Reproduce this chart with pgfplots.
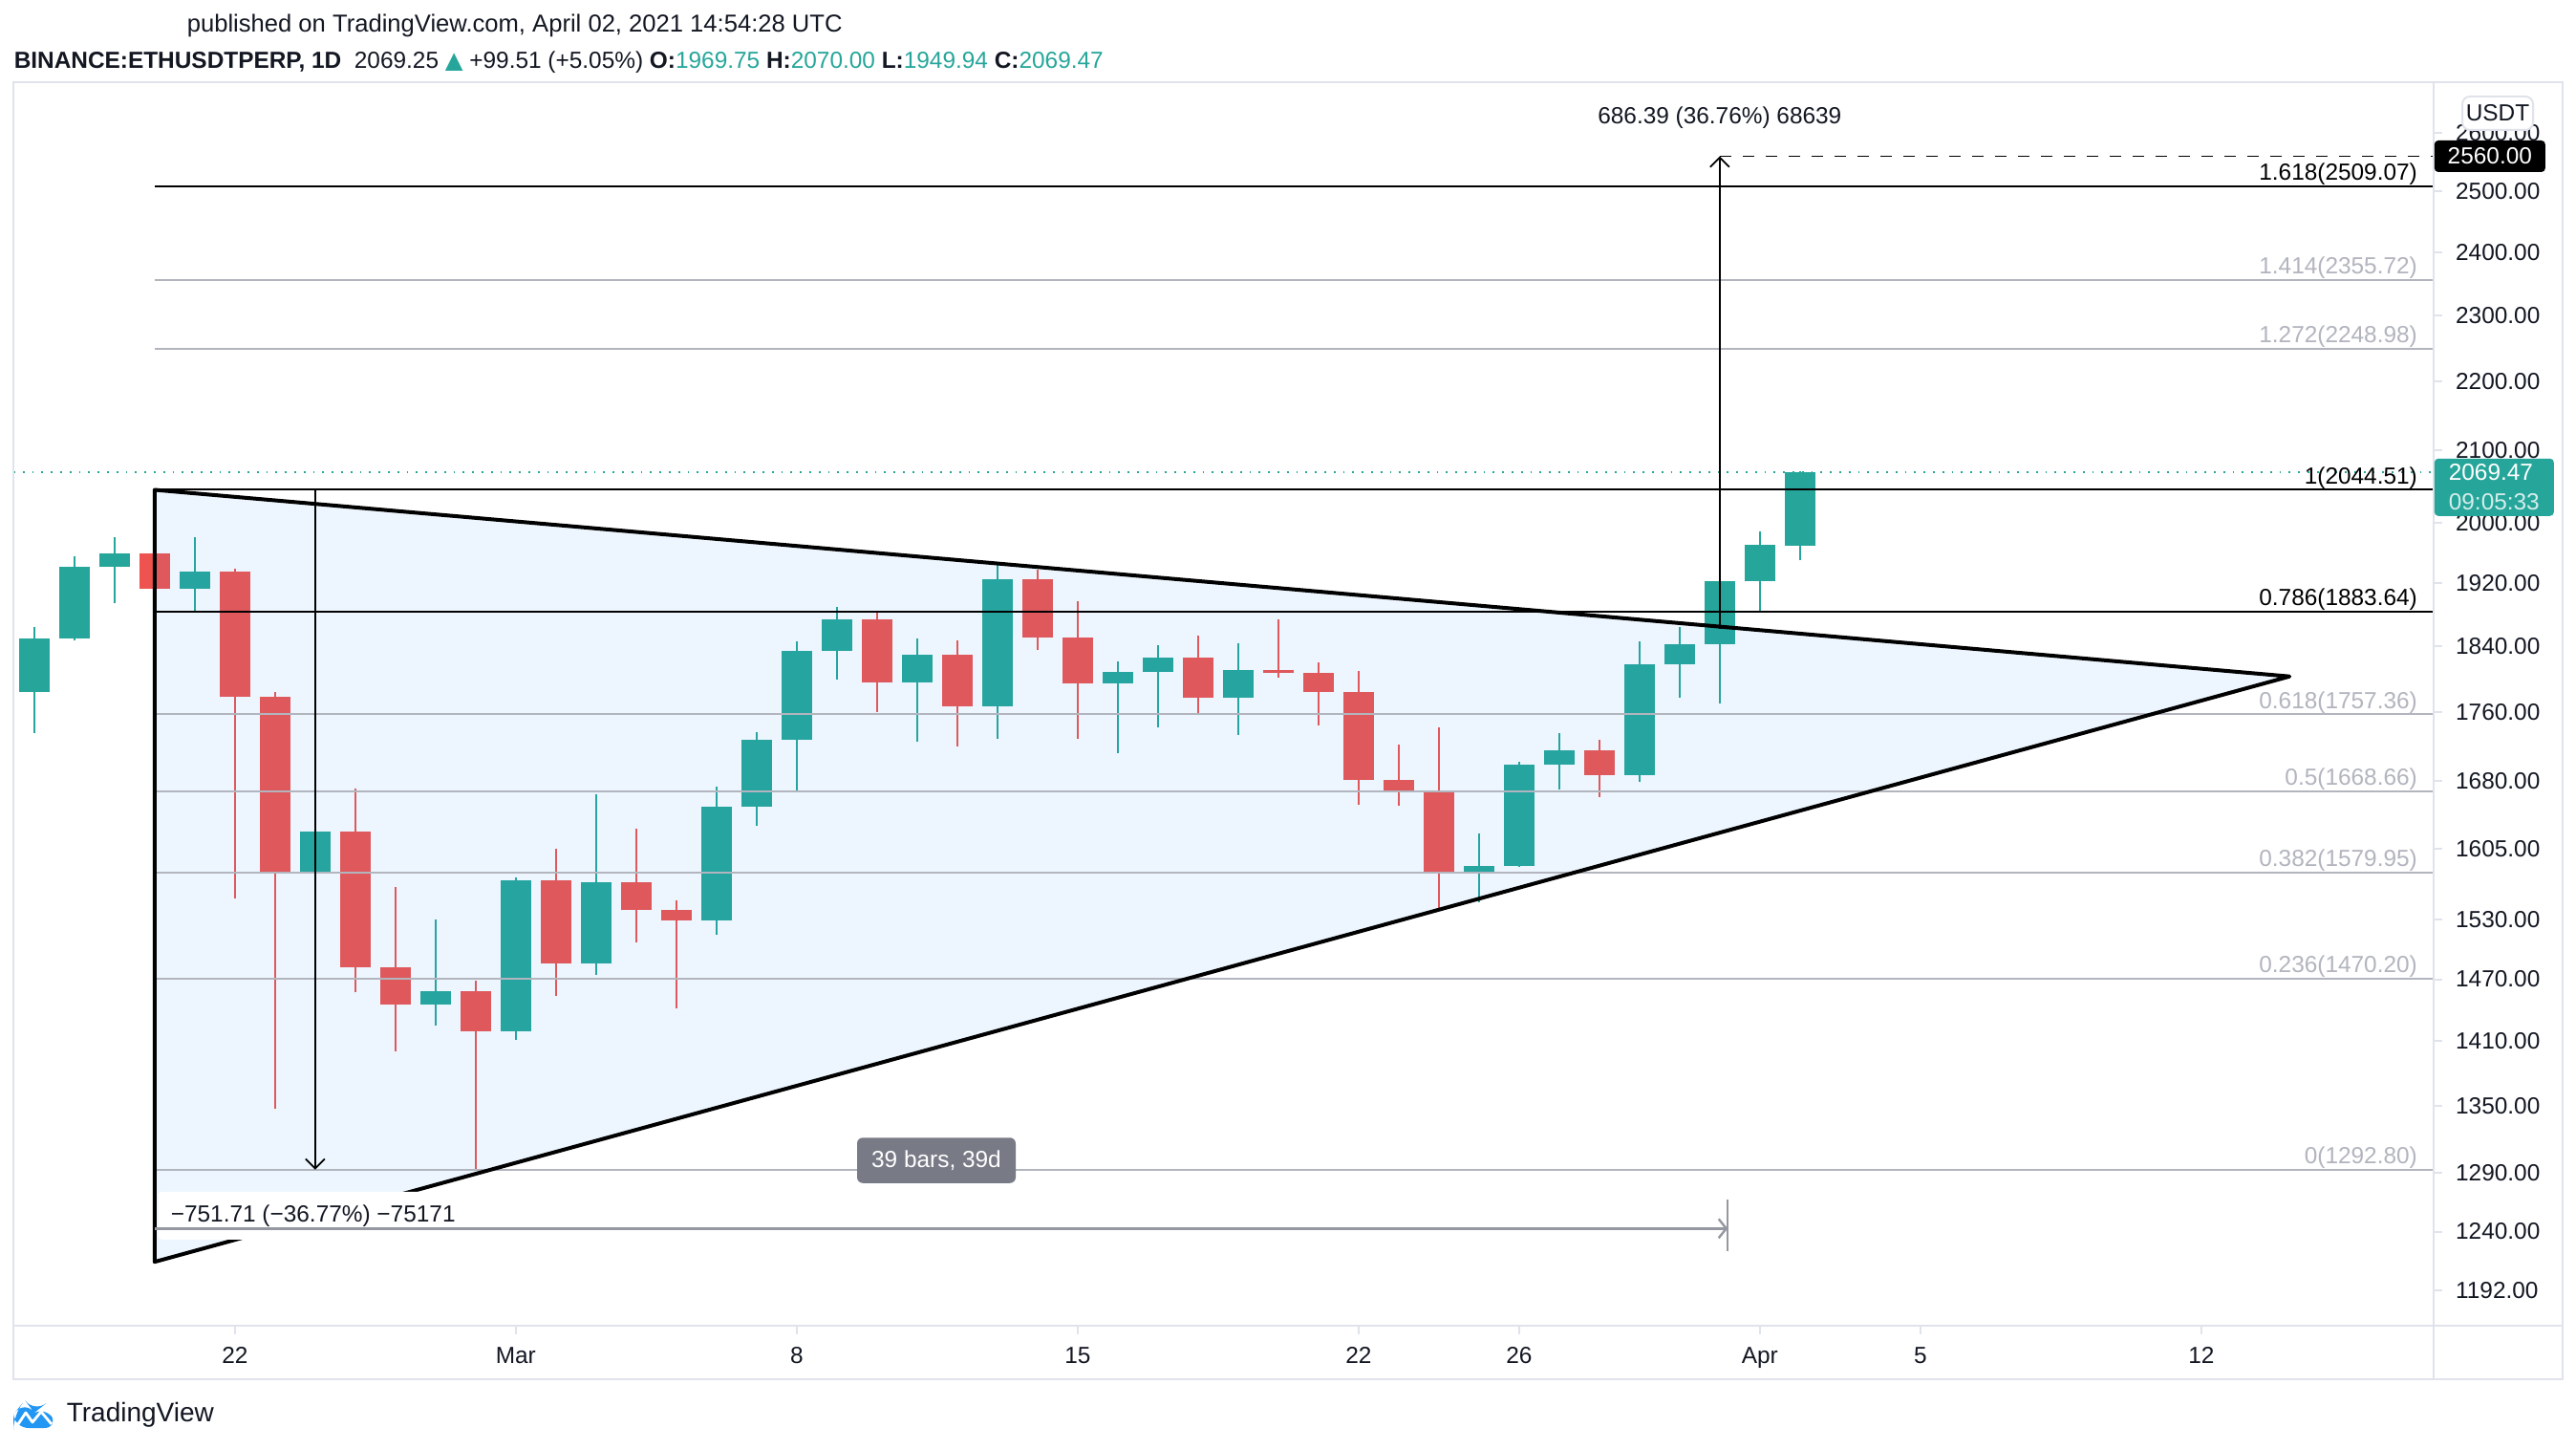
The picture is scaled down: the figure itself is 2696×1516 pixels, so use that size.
\documentclass[border=0pt]{standalone}
\usepackage{fontspec}
\setmainfont{Liberation Sans}
\newfontfamily\dejavu{DejaVu Sans}
\usepackage{pgfplots}
\usepackage{pgfplotstable}
\pgfplotsset{compat=1.18}
\usetikzlibrary{arrows.meta}

\definecolor{tvtext}{HTML}{131722}
\definecolor{tvgrey}{HTML}{B2B5BE}
\definecolor{tvborder}{HTML}{E0E3EB}
\definecolor{tvup}{HTML}{26A69A}
\definecolor{tvdown}{HTML}{EF5350}
\definecolor{tvblue}{HTML}{2196F3}
\definecolor{tvlabel}{HTML}{787B86}
\definecolor{tvmeasure}{HTML}{9598A1}

\newcommand{\tvf}{\fontsize{6.1}{7.3}\selectfont}

% day 0 = Feb 22, 2021
\pgfplotstableread{
d o h l c
-5 1784 1864 1735 1850
-4 1850 1955 1847 1942
-3 1942 1981 1894 1959
-1 1913 1981 1885 1935
2 1580 1626 1578 1624
5 1445 1530 1425 1458
7 1419 1574 1411 1571
9 1486 1665 1474 1569
12 1529 1674 1515 1651
13 1651 1736 1630 1728
14 1728 1846 1667 1834
15 1834 1889 1799 1874
17 1796 1850 1725 1829
19 1767 1948 1729 1925
22 1794 1821 1712 1808
23 1808 1842 1742 1826
25 1777 1844 1733 1811
31 1580 1622 1548 1587
32 1587 1702 1586 1699
33 1699 1735 1670 1715
35 1687 1846 1679 1818
36 1818 1864 1777 1843
37 1843 1952 1770 1922
38 1922 1988 1882 1970
39 1969.75 2070.00 1949.94 2069.47
}\upcandles

\pgfplotstableread{
d o h l c
-2 1959 1960 1912 1913
0 1935 1939 1552 1778
1 1778 1784 1347 1580
3 1624 1672 1457 1482
4 1482 1564 1400 1445
6 1458 1469 1292.8 1419
8 1571 1605 1454 1486
10 1569 1627 1507 1540
11 1540 1550 1441 1529
16 1874 1882 1760 1796
18 1829 1847 1720 1767
20 1925 1937 1835 1851
21 1851 1897 1729 1794
24 1826 1853 1758 1777
26 1811 1874 1802 1807
27 1807 1820 1744 1784
28 1784 1810 1654 1682
29 1682 1722 1652 1669
30 1669 1742 1540 1580
34 1715 1728 1662 1687
}\downcandles

\pgfplotsset{candle/.style={draw=none, mark=none,
  error bars/.cd, y dir=plus, y explicit, error mark=none}}

\begin{document}
\begin{tikzpicture}
\begin{scope}[x=0.25pt,y=-0.25pt]
\path[fill=white, use as bounding box] (0,0) rectangle (2696,1516);
\end{scope}

\begin{axis}[
  at={(3.5pt,-346.75pt)}, anchor=south west,
  scale only axis, width=633.25pt, height=325.25pt,
  xmin=-5.52, xmax=54.79,
  ymode=log, ymin=1163.9, ymax=2691.4,
  clip=false,
  axis line style={draw=tvborder, line width=0.5pt},
  tick align=outside,
  major tick length=2.25pt,
  xminorticks=false, yminorticks=false,
  xtick={0,7,14,21,28,32,38,42,49},
  xticklabels={22,Mar,8,15,22,26,Apr,5,12},
  xtick pos=left,
  ytick={1192,1240,1290,1350,1410,1470,1530,1605,1680,1760,1840,1920,2000,2100,2200,2300,2400,2500,2600},
  yticklabels={1192.00,1240.00,1290.00,1350.00,1410.00,1470.00,1530.00,1605.00,1680.00,1760.00,1840.00,1920.00,2000.00,2100.00,2200.00,2300.00,2400.00,2500.00,2600.00},
  ytick pos=right,
  yticklabel pos=right,
  tick style={draw=tvborder, line width=0.5pt},
  ticklabel style={font=\tvf, text=tvtext},
  /pgf/number format/assume math mode=true,
]

% candle wicks
\addplot[candle, error bar style={draw=tvup, line width=0.45pt}]
  table[x=d, y=l, y error plus expr=\thisrow{h}-\thisrow{l}] {\upcandles};
\addplot[candle, error bar style={draw=tvdown, line width=0.45pt}]
  table[x=d, y=l, y error plus expr=\thisrow{h}-\thisrow{l}] {\downcandles};
% candle bodies
\addplot[candle, error bar style={draw=tvup, line width=8pt}]
  table[x=d, y=o, y error plus expr=\thisrow{c}-\thisrow{o}] {\upcandles};
\addplot[candle, error bar style={draw=tvdown, line width=8pt}]
  table[x=d, y=c, y error plus expr=\thisrow{o}-\thisrow{c}] {\downcandles};

% triangle fill
\addplot[draw=none, fill=tvblue, fill opacity=0.08] coordinates {(-2,2044.51) (51.2,1803) (-2,1215)} -- cycle;

% last price line
\addplot[tvup, dotted, line width=0.45pt] coordinates {(-5.52,2069.47) (54.79,2069.47)};

% fib levels
\addplot[tvgrey, line width=0.5pt] coordinates {(-2,1292.80) (54.79,1292.80)};
\addplot[tvgrey, line width=0.5pt] coordinates {(-2,1470.20) (54.79,1470.20)};
\addplot[tvgrey, line width=0.5pt] coordinates {(-2,1579.95) (54.79,1579.95)};
\addplot[tvgrey, line width=0.5pt] coordinates {(-2,1668.66) (54.79,1668.66)};
\addplot[tvgrey, line width=0.5pt] coordinates {(-2,1757.36) (54.79,1757.36)};
\addplot[black, line width=0.5pt] coordinates {(-2,1883.64) (54.79,1883.64)};
\addplot[black, line width=0.5pt] coordinates {(-2,2044.51) (54.79,2044.51)};
\addplot[tvgrey, line width=0.5pt] coordinates {(-2,2248.98) (54.79,2248.98)};
\addplot[tvgrey, line width=0.5pt] coordinates {(-2,2355.72) (54.79,2355.72)};
\addplot[black, line width=0.5pt] coordinates {(-2,2509.07) (54.79,2509.07)};

\node[anchor=base east, inner sep=0pt, yshift=1.6pt, font=\tvf, text=tvgrey] at (axis cs:54.4,1292.80) {0(1292.80)};
\node[anchor=base east, inner sep=0pt, yshift=1.6pt, font=\tvf, text=tvgrey] at (axis cs:54.4,1470.20) {0.236(1470.20)};
\node[anchor=base east, inner sep=0pt, yshift=1.6pt, font=\tvf, text=tvgrey] at (axis cs:54.4,1579.95) {0.382(1579.95)};
\node[anchor=base east, inner sep=0pt, yshift=1.6pt, font=\tvf, text=tvgrey] at (axis cs:54.4,1668.66) {0.5(1668.66)};
\node[anchor=base east, inner sep=0pt, yshift=1.6pt, font=\tvf, text=tvgrey] at (axis cs:54.4,1757.36) {0.618(1757.36)};
\node[anchor=base east, inner sep=0pt, yshift=1.6pt, font=\tvf, text=black] at (axis cs:54.4,1883.64) {0.786(1883.64)};
\node[anchor=base east, inner sep=0pt, yshift=1.6pt, font=\tvf, text=black] at (axis cs:54.4,2044.51) {1(2044.51)};
\node[anchor=base east, inner sep=0pt, yshift=1.6pt, font=\tvf, text=tvgrey] at (axis cs:54.4,2248.98) {1.272(2248.98)};
\node[anchor=base east, inner sep=0pt, yshift=1.6pt, font=\tvf, text=tvgrey] at (axis cs:54.4,2355.72) {1.414(2355.72)};
\node[anchor=base east, inner sep=0pt, yshift=1.6pt, font=\tvf, text=black] at (axis cs:54.4,2509.07) {1.618(2509.07)};

% triangle outline
\addplot[black, line width=1pt, line join=round] coordinates {(-2,2044.51) (51.2,1803) (-2,1215)} -- cycle;

% measured drop
\addplot[black, line width=0.45pt, -{Straight Barb[length=2.5pt,width=5pt]}] coordinates {(2,2044.51) (2,1292.8)};
\node[fill=white, rounded corners=1pt, text=tvtext, font=\tvf, minimum width=76pt, minimum height=12.5pt] at (axis cs:1.95,1253.5) {−751.71 (−36.77\%) −75171};
\addplot[tvmeasure, line width=0.6pt, -{Straight Barb[length=2pt,width=5pt]}] coordinates {(-2,1242.6) (37.2,1242.6)};
\addplot[tvmeasure, line width=0.4pt] coordinates {(37.2,1224) (37.2,1267.5)};
\node[fill=tvlabel, text=white, rounded corners=1.5pt, font=\tvf, minimum width=41.5pt, minimum height=11.75pt] at (axis cs:17.48,1301) {39 bars, 39d};

% projected rise
\addplot[black, line width=0.45pt, -{Straight Barb[length=2.5pt,width=5pt]}] coordinates {(37,1862) (37,2560)};
\addplot[black, line width=0.45pt, dash pattern=on 3pt off 3pt] coordinates {(37,2560) (54.79,2560)};
\node[font=\tvf, text=tvtext] at (axis cs:37,2627) {686.39 (36.76\%) 68639};

\end{axis}

\begin{scope}[x=0.25pt,y=-0.25pt]
% frame
\draw[tvborder, line width=0.5pt] (14,86) rectangle (2682,1443);
\draw[tvborder, line width=0.5pt] (2547,86) -- (2547,1443);
\draw[tvborder, line width=0.5pt] (14,1387) -- (2682,1387);
% price axis labels
\node[draw=tvborder, fill=white, rounded corners=2pt, line width=0.5pt, font=\tvf, text=tvtext, minimum width=18.5pt, minimum height=8.75pt, inner sep=0pt] at (2614,118.5) {USDT};
\node[fill=black, text=white, rounded corners=1pt, font=\tvf, anchor=west, minimum width=29pt, minimum height=8.25pt, inner sep=0pt] at (2547,163.5) {2560.00};
\node[fill=tvup, rounded corners=1pt, anchor=north west, minimum width=31.25pt, minimum height=15pt, inner sep=0pt, align=left, font=\tvf] at (2547,479) {\textcolor{white}{2069.47}\\[0.3pt]\textcolor{white!80!tvup}{09:05:33}};
% header
\node[anchor=west, inner sep=0pt, font=\fontsize{6.4}{7.6}\selectfont, text=tvtext] at (195,27) {published on TradingView.com, April 02, 2021 14:54:28 UTC};
\node[anchor=west, inner sep=0pt, font=\fontsize{6.1}{7.3}\selectfont, text=tvtext] at (14,65) {\textbf{BINANCE:ETHUSDTPERP, 1D}\ \ 2069.25 {\dejavu\textcolor{tvup}{▲}} +99.51 (+5.05\%) \textbf{O:}\textcolor{tvup}{1969.75} \textbf{H:}\textcolor{tvup}{2070.00} \textbf{L:}\textcolor{tvup}{1949.94} \textbf{C:}\textcolor{tvup}{2069.47}};
% logo
\fill[tvblue, rounded corners=4] (14,1494) -- (14,1480) -- (26,1465) -- (36,1478) -- (46,1470) -- (62,1494) -- cycle;
\draw[white, line width=0.7pt, line join=round] (19,1490) -- (27,1478) -- (34,1488) -- (43,1477) -- (54,1490);
\node[anchor=west, inner sep=0pt, font=\fontsize{7}{8}\selectfont, text=tvtext] at (69,1480) {TradingView};
\end{scope}
\end{tikzpicture}
\end{document}
